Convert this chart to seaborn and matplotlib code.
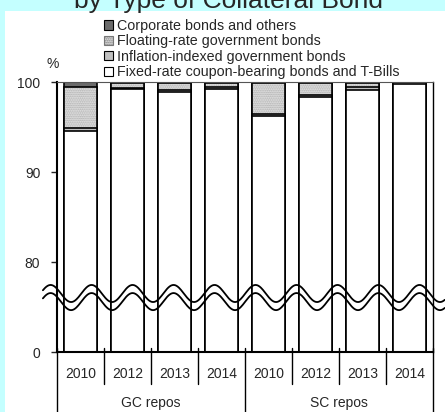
import matplotlib
matplotlib.use('Agg')
import matplotlib.pyplot as plt
from matplotlib.patches import Patch, Rectangle
import seaborn as sns
import numpy as np
import pandas as pd

# values in % of collateral
groups = ["GC repos"] * 4 + ["SC repos"] * 4
years = ["2010", "2012", "2013", "2014"] * 2
fixed = [94.6, 99.2, 98.9, 99.2, 96.2, 98.3, 99.1, 99.8]
inflation = [0.3, 0.1, 0.2, 0.2, 0.2, 0.3, 0.3, 0.2]
floating = [4.6, 0.6, 0.8, 0.5, 3.5, 1.3, 0.5, 0.0]
corporate = [0.5, 0.1, 0.1, 0.1, 0.1, 0.1, 0.1, 0.0]

labels = ["Corporate bonds and others", "Floating-rate government bonds",
          "Inflation-indexed government bonds",
          "Fixed-rate coupon-bearing bonds and T-Bills"]
title = "by Type of Collateral Bond"

sns.set_style("white")
plt.rcParams['font.family'] = ['Liberation Sans', 'DejaVu Sans']
plt.rcParams['hatch.linewidth'] = 0.8

df = pd.DataFrame({"key": [g + " " + y for g, y in zip(groups, years)],
                   "fixed": fixed, "inflation": inflation,
                   "floating": floating, "corporate": corporate})
df["c_infl"] = df["fixed"] + df["inflation"]
df["c_float"] = df["c_infl"] + df["floating"]
df["c_corp"] = df["c_float"] + df["corporate"]
order = list(df["key"])

fig = plt.figure(figsize=(4.45, 4.12), dpi=100)
fig.patch.set_facecolor('#c4ffff')
fig.patches.append(Rectangle((5 / 445, 0), 440 / 445, 401 / 412,
                             transform=fig.transFigure, facecolor='white',
                             edgecolor='none', zorder=-5))

ax = fig.add_axes([57 / 445, 60 / 412, 376 / 445, 270 / 412])
ax.set_facecolor('none')

bw = 0.7
hatch = '.........'
ek = dict(edgecolor='black', linewidth=1.2)
sns.barplot(data=df, x="key", y="c_corp", order=order, color='#6b6b6b',
            saturation=1, width=bw, ax=ax, **ek)
n0 = len(ax.patches)
sns.barplot(data=df, x="key", y="c_float", order=order, color='#e6e6e6',
            saturation=1, width=bw, ax=ax, edgecolor='#a8a8a8', linewidth=0)
for p in ax.patches[n0:]:
    p.set_hatch(hatch)
sns.barplot(data=df, x="key", y="c_float", order=order, fill=False,
            width=bw, ax=ax, **ek)
sns.barplot(data=df, x="key", y="c_infl", order=order, color='#c0c0c0',
            saturation=1, width=bw, ax=ax, **ek)
sns.barplot(data=df, x="key", y="fixed", order=order, color='white',
            saturation=1, width=bw, ax=ax, **ek)

ax.set_ylim(70, 100)
ax.set_xlim(-0.5, len(order) - 0.5)
ax.set_yticks([70, 80, 90, 100])
ax.set_yticklabels(["0", "80", "90", "100"], fontsize=10)
ax.tick_params(axis='y', direction='out', length=4, width=1, left=True, pad=8)
ax.set_xticks([])
ax.set_xlabel("")
ax.set_ylabel("")
for s in ['left', 'bottom']:
    ax.spines[s].set_linewidth(1.5)
    ax.spines[s].set_color('black')
ax.spines['top'].set_linewidth(0.8)
ax.spines['top'].set_color('#555555')
ax.spines['right'].set_linewidth(1.0)
ax.spines['right'].set_color('black')

# wavy break marks
xw = np.linspace(-0.8, len(order) - 0.25, 600)
yw = 76.5 - 0.95 * np.cos(2 * np.pi * (xw + 0.2) / 0.872)
ax.plot(xw, yw, color='black', lw=1.3, clip_on=False, zorder=10)
ax.plot(xw, yw - 0.9, color='black', lw=1.3, clip_on=False, zorder=10)

# category labels under the axis
tr = ax.get_xaxis_transform()
for i, y in enumerate(years):
    ax.text(i, -0.08, y, transform=tr, ha='center', va='center', fontsize=10)
for k in range(1, len(order)):
    if k % 4 == 0:
        continue
    ax.plot([k - 0.5, k - 0.5], [0.015, -0.12], transform=tr, color='black',
            lw=1, clip_on=False)
for k in [0, 4, 8]:
    ax.plot([k - 0.5, k - 0.5], [0.015, -0.23], transform=tr, color='black',
            lw=1, clip_on=False)
for j, g in enumerate(["GC repos", "SC repos"]):
    ax.text(j * 4 + 1.5, -0.19, g, transform=tr, ha='center', va='center',
            fontsize=10)

ax.text(-0.012, 1.04, "%", transform=ax.transAxes, ha='center', va='bottom',
        fontsize=10)

handles = [Patch(facecolor='#6b6b6b', edgecolor='black', lw=0.8),
           Patch(facecolor='#e6e6e6', edgecolor='#777777', hatch=hatch, lw=0.8),
           Patch(facecolor='#c0c0c0', edgecolor='black', lw=0.8),
           Patch(facecolor='white', edgecolor='black', lw=0.8)]
fig.legend(handles, labels, loc='upper left',
           bbox_to_anchor=(94 / 445, 1 - 9 / 412), frameon=False,
           fontsize=10.3, handlelength=0.6, handleheight=0.6,
           handletextpad=0.3, labelspacing=0.1, borderpad=0.2)

fig.text(229 / 445, 1 - 8 / 412, title, ha='center', va='baseline',
         fontsize=19)

fig.savefig("out.png", dpi=100, facecolor=fig.get_facecolor())
